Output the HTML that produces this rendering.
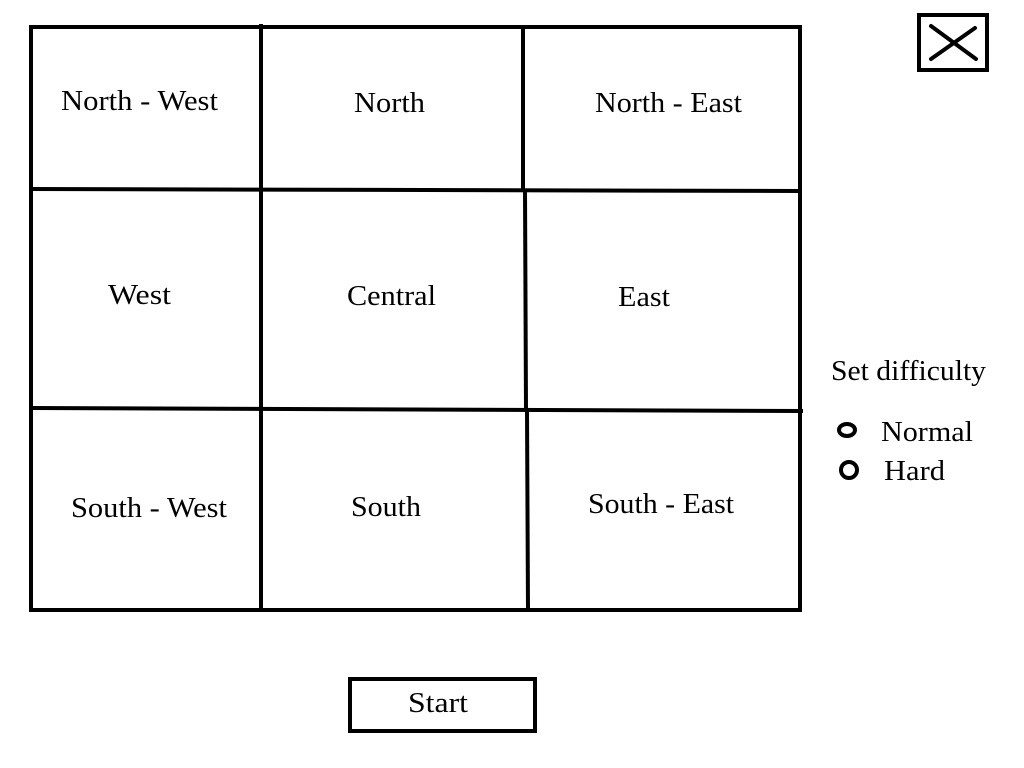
<!DOCTYPE html>
<html><head><style>html,body{margin:0;padding:0;background:#fff;width:1024px;height:768px;overflow:hidden}</style></head>
<body>
<svg width="1024" height="768" xmlns="http://www.w3.org/2000/svg" font-family="Liberation Serif, serif" font-size="28" fill="#000">
<g stroke="#000" stroke-width="4" fill="none">
<rect x="31" y="27" width="769" height="583"/>
<line x1="261" y1="24" x2="261" y2="610"/>
<line x1="523" y1="27" x2="523" y2="190"/>
<line x1="525" y1="190" x2="526" y2="410"/>
<line x1="527" y1="410" x2="528" y2="612"/>
<line x1="31" y1="189" x2="800" y2="191"/>
<line x1="31" y1="408" x2="803" y2="411"/>
<rect x="919" y="15" width="68" height="55"/>
<line x1="931" y1="26" x2="976" y2="59" stroke-linecap="round"/>
<line x1="931" y1="59" x2="975" y2="28" stroke-linecap="round"/>
<rect x="350" y="679" width="185" height="52"/>
<ellipse cx="847" cy="430" rx="8" ry="6"/>
<circle cx="849" cy="470" r="8"/>
</g>
<g stroke="none">
<text x="61" y="110" textLength="157" lengthAdjust="spacingAndGlyphs">North - West</text>
<text x="354" y="112" textLength="71" lengthAdjust="spacingAndGlyphs">North</text>
<text x="595" y="112" textLength="147" lengthAdjust="spacingAndGlyphs">North - East</text>
<text x="108" y="304" textLength="63" lengthAdjust="spacingAndGlyphs">West</text>
<text x="347" y="305" textLength="89" lengthAdjust="spacingAndGlyphs">Central</text>
<text x="618" y="306" textLength="52" lengthAdjust="spacingAndGlyphs">East</text>
<text x="71" y="517" textLength="156" lengthAdjust="spacingAndGlyphs">South - West</text>
<text x="351" y="516" textLength="70" lengthAdjust="spacingAndGlyphs">South</text>
<text x="588" y="513" textLength="146" lengthAdjust="spacingAndGlyphs">South - East</text>
<text x="831" y="380" textLength="155" lengthAdjust="spacingAndGlyphs">Set difficulty</text>
<text x="881" y="441" textLength="92" lengthAdjust="spacingAndGlyphs">Normal</text>
<text x="884" y="480" textLength="61" lengthAdjust="spacingAndGlyphs">Hard</text>
<text x="408" y="712" textLength="60" lengthAdjust="spacingAndGlyphs">Start</text>
</g>
</svg>
</body></html>
